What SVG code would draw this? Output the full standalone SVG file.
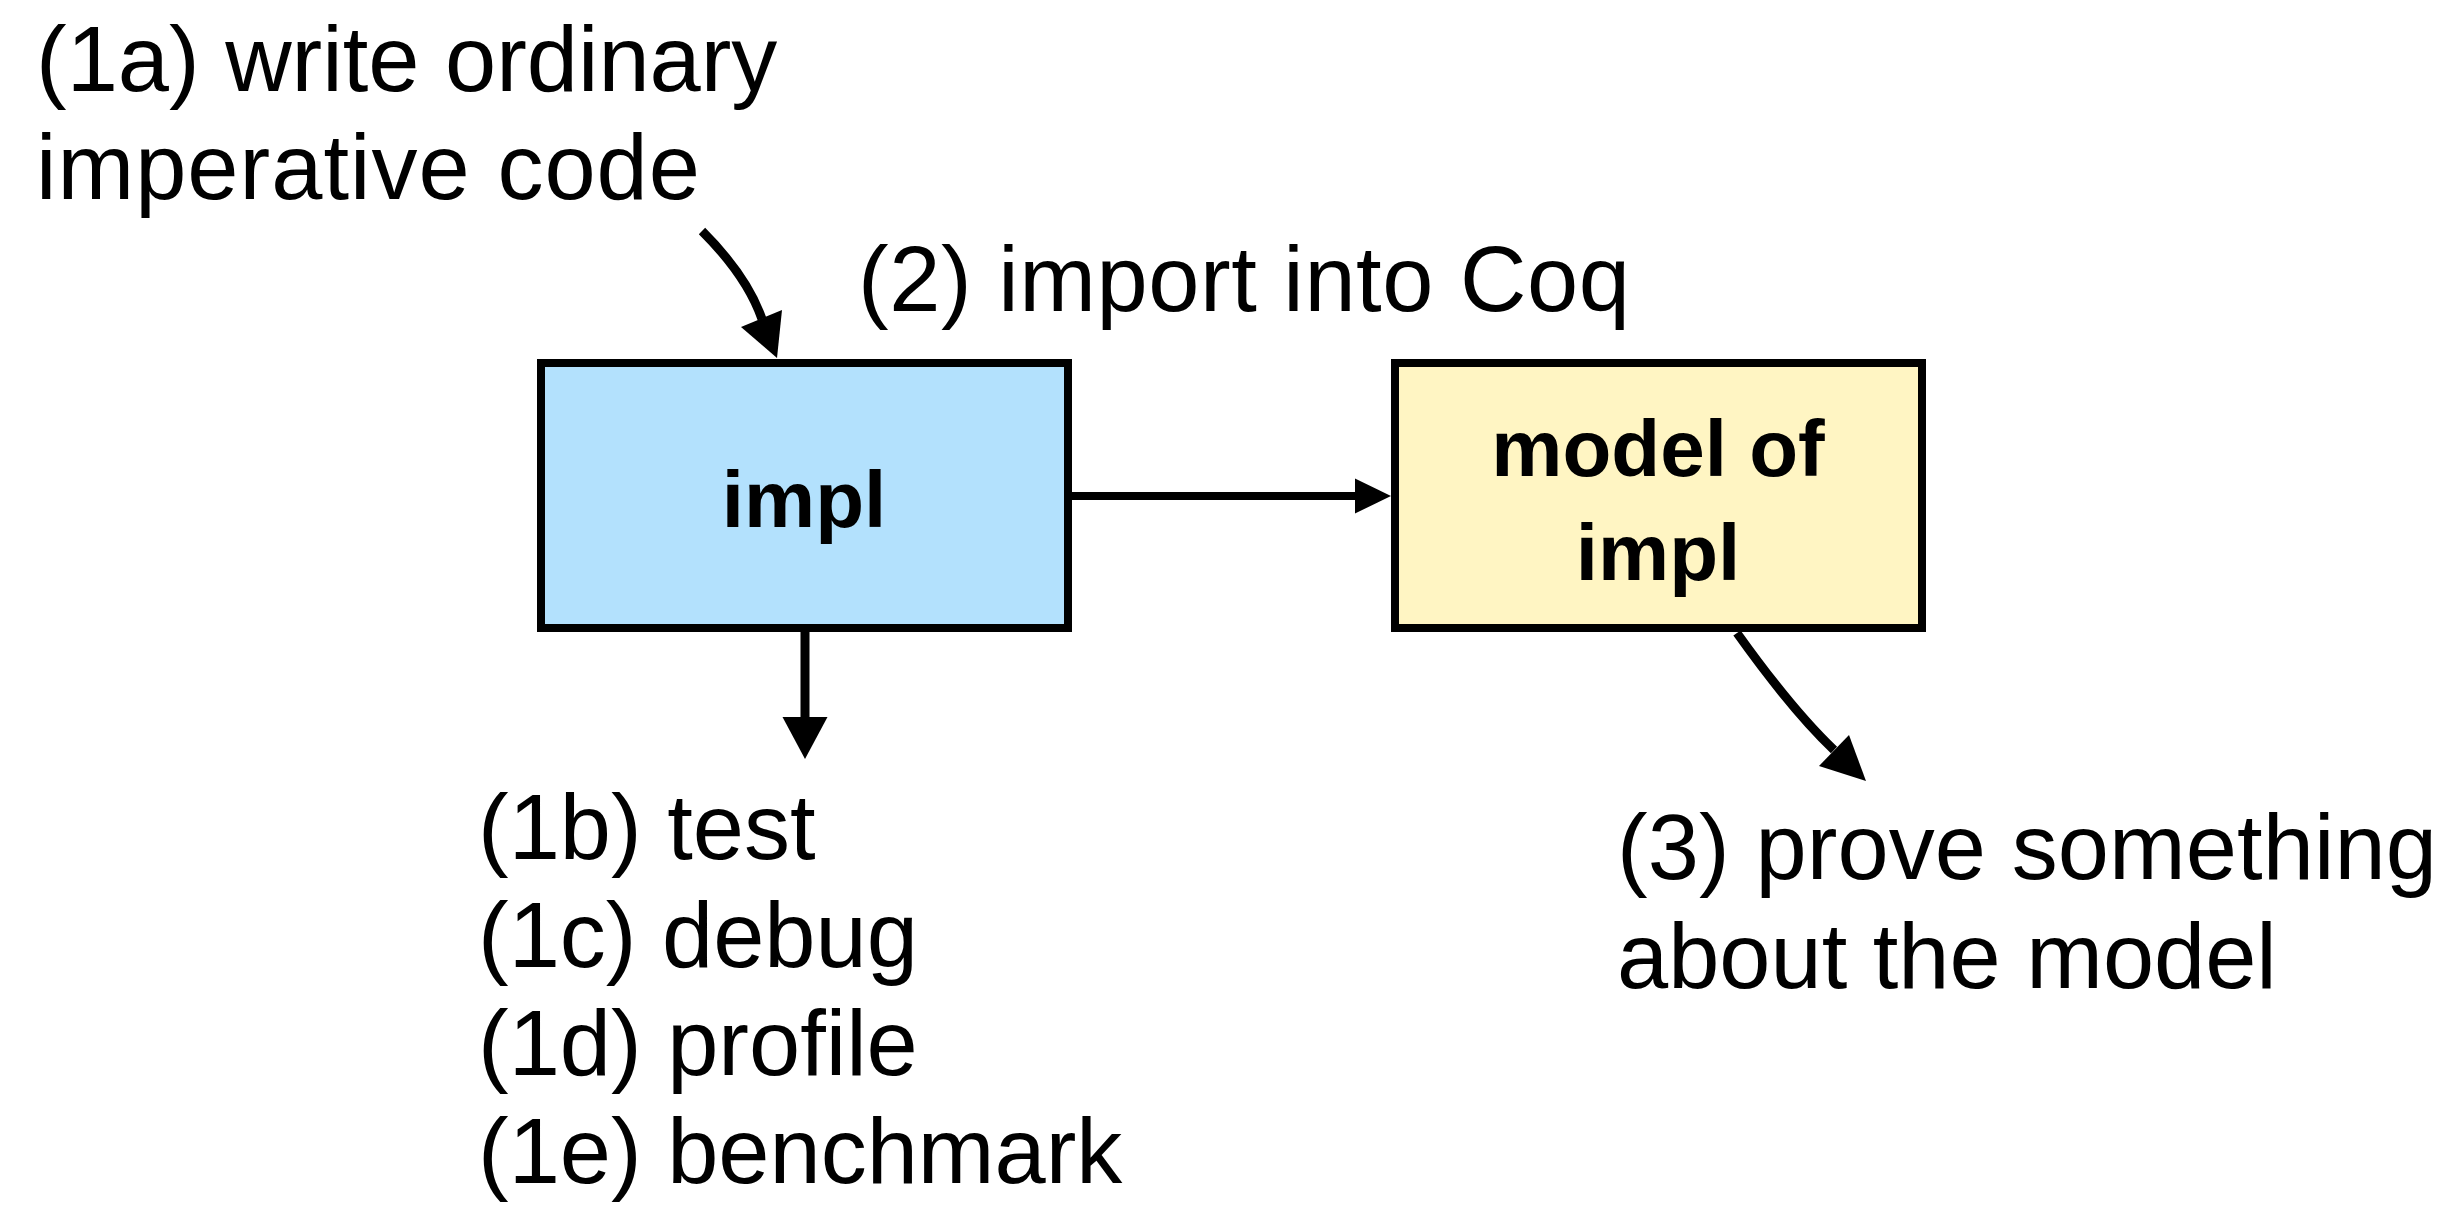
<svg xmlns="http://www.w3.org/2000/svg" width="2459" height="1208" viewBox="0 0 2459 1208">
  <style>
    .lbl { font-family: "Liberation Sans", Arial, sans-serif; font-size: 92px; fill: #000; }
    .box-text { font-family: "Liberation Sans", Arial, sans-serif; font-size: 80px; font-weight: bold; fill: #000; text-anchor: middle; }
    .box { stroke: #000; stroke-width: 8; }
    .conn { fill: none; stroke: #000; }
    .head { fill: #000; stroke: none; }
  </style>
  <rect width="2459" height="1208" fill="#ffffff"/>

  <g id="label-1a">
    <text class="lbl" x="36" y="91">(1a) write ordinary</text>
    <text class="lbl" x="36" y="199" textLength="664" lengthAdjust="spacing">imperative code</text>
  </g>
  <g id="label-2">
    <text class="lbl" x="858" y="311" textLength="772" lengthAdjust="spacing">(2) import into Coq</text>
  </g>

  <g id="node-impl">
    <rect class="box" x="541" y="363" width="527" height="265" fill="#b3e1fd"/>
    <text class="box-text" x="804" y="527">impl</text>
  </g>
  <g id="node-model">
    <rect class="box" x="1395" y="363" width="527" height="265" fill="#fff5c3"/>
    <text class="box-text" x="1658" y="476">model of</text>
    <text class="box-text" x="1658" y="580">impl</text>
  </g>

  <g id="label-1b-1e">
    <text class="lbl" x="478" y="859">(1b) test</text>
    <text class="lbl" x="478" y="967">(1c) debug</text>
    <text class="lbl" x="478" y="1075">(1d) profile</text>
    <text class="lbl" x="478" y="1183">(1e) benchmark</text>
  </g>
  <g id="label-3">
    <text class="lbl" x="1617" y="879" textLength="820" lengthAdjust="spacing">(3) prove something</text>
    <text class="lbl" x="1617" y="988">about the model</text>
  </g>

  <g id="connectors">
    <!-- (1a) -> impl -->
    <path class="conn" stroke-width="9" d="M702,231 Q747,276 762,319"/>
    <polygon class="head" points="741,327 782,310 777,358"/>
    <!-- impl -> model -->
    <line class="conn" stroke-width="8" x1="1072" y1="496" x2="1358" y2="496"/>
    <polygon class="head" points="1355,478.5 1391,496 1355,513.5"/>
    <!-- impl -> tests -->
    <line class="conn" stroke-width="9" x1="805" y1="632" x2="805" y2="720"/>
    <polygon class="head" points="782.5,717 827.5,717 805,759"/>
    <!-- model -> (3) -->
    <path class="conn" stroke-width="9" d="M1737,633 Q1792,710 1834,750"/>
    <polygon class="head" points="1819,766 1849,735 1866,781"/>
  </g>
</svg>
